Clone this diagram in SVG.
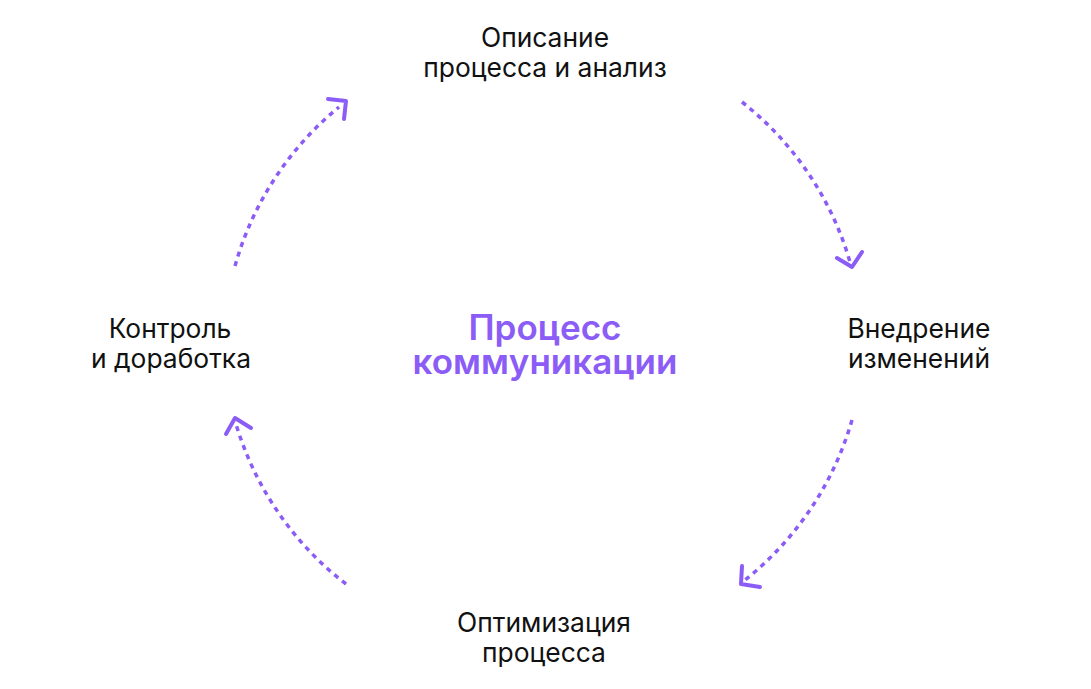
<svg xmlns="http://www.w3.org/2000/svg" width="1091" height="689" viewBox="0 0 1091 689">
<style>
.lbl{font-family:Inter,"Liberation Sans",Arial,sans-serif;font-size:26.4px;fill:#111;text-anchor:middle}
.ttl{font-family:Inter,"Liberation Sans",Arial,sans-serif;font-size:35px;font-weight:600;fill:#8B5CF6;text-anchor:middle}
.arc{fill:none;stroke:#8B5CF6;stroke-width:3.5;stroke-dasharray:5 5}
.head{fill:none;stroke:#8B5CF6;stroke-width:4;stroke-linecap:round;stroke-linejoin:round}
</style>
<rect width="1091" height="689" fill="#fff"/>
<g id="connectors">
<path class="arc" d="M235,266 A316,316 0 0 1 339,107"/>
<polyline class="head" points="328,99 346,101 344,119"/>
<path class="arc" d="M742,102 A316,316 0 0 1 850,262"/>
<polyline class="head" points="837,258 852,267 862,252"/>
<path class="arc" d="M852,420 A316,316 0 0 1 745,580"/>
<polyline class="head" points="742,566 741,584 760,587"/>
<path class="arc" d="M346,584 A316,316 0 0 1 236,424"/>
<polyline class="head" points="226,434 235,418 251,428"/>
</g>
<g id="center"><text class="ttl" x="545" y="340">Процесс</text><text class="ttl" x="545" y="374">коммуникации</text></g>
<g id="n-top"><text class="lbl" x="545" y="47">Описание</text><text class="lbl" x="545" y="77">процесса и анализ</text></g>
<g id="n-right"><text class="lbl" x="919" y="338">Внедрение</text><text class="lbl" x="919" y="368">изменений</text></g>
<g id="n-bottom"><text class="lbl" x="544" y="632">Оптимизация</text><text class="lbl" x="544" y="662">процесса</text></g>
<g id="n-left"><text class="lbl" x="170" y="338">Контроль</text><text class="lbl" x="171" y="368">и доработка</text></g>
</svg>
